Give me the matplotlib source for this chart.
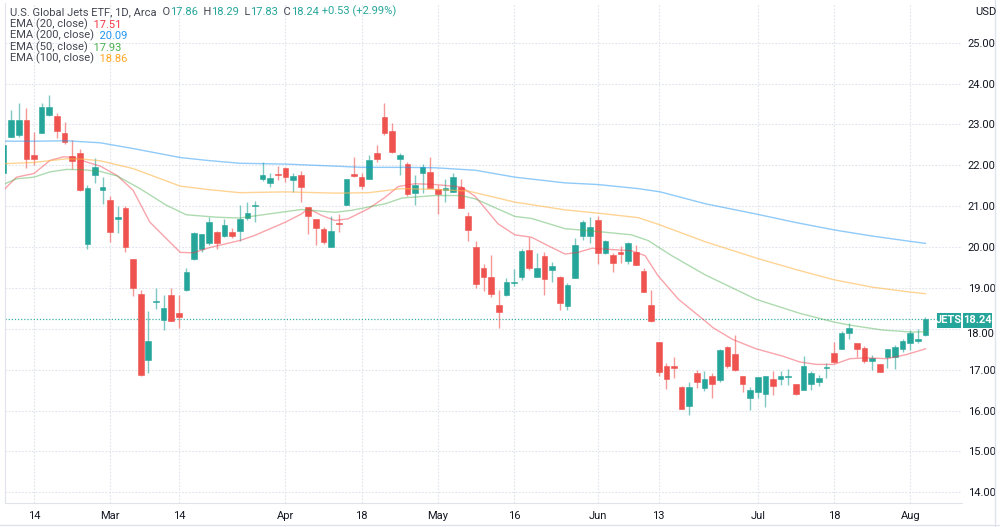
import matplotlib.pyplot as plt
from matplotlib.lines import Line2D
from matplotlib.patches import Rectangle
import numpy as np
import pandas as pd

plt.rcParams['font.family'] = ['Roboto', 'DejaVu Sans']

# trading days Feb 8 - Aug 3 2022 (US market holidays removed)
holidays = ['2022-02-21', '2022-04-15', '2022-05-30', '2022-06-20', '2022-07-04']
dates = pd.bdate_range('2022-02-08', '2022-08-03')
dates = dates[~dates.isin(pd.to_datetime(holidays))]

opens = [21.80, 22.70, 22.74, 23.11, 22.26, 22.78, 23.23, 23.20, 22.80, 22.22,
         22.31, 20.08, 21.77, 21.40, 21.16, 20.68, 20.96, 19.70, 18.84, 17.23,
         18.66, 18.22, 18.83, 18.38, 18.95, 19.72, 19.95, 20.10, 20.36, 20.28,
         20.38, 20.40, 20.72, 21.00, 21.67, 21.57, 21.79, 21.94, 21.65, 21.76,
         20.98, 20.69, 20.44, 19.99, 20.59, 21.04, 21.79, 21.71, 21.67, 22.29,
         23.17, 22.84, 22.15, 22.03, 21.32, 21.82, 21.84, 21.43, 21.39, 21.35,
         21.48, 20.75, 19.99, 19.50, 19.26, 18.59, 18.82, 19.11, 19.28, 19.93,
         19.27, 19.77, 19.44, 19.28, 18.56, 19.25, 20.26, 20.28, 20.65, 19.85,
         19.81, 19.89, 19.65, 19.87, 19.42, 18.59, 17.68, 17.09, 17.09, 16.57,
         16.12, 16.92, 16.55, 16.85, 16.76, 17.55, 17.39, 16.84, 16.31, 16.45,
         16.41, 16.78, 16.78, 16.82, 16.66, 16.50, 16.66, 16.69, 17.04, 17.41,
         17.51, 17.91, 17.66, 17.53, 17.22, 17.14, 17.30, 17.30, 17.51, 17.66,
         17.71, 17.86]
highs = [22.55, 23.35, 23.52, 23.41, 22.82, 23.52, 23.72, 23.27, 23.07, 22.62,
         22.39, 21.51, 22.19, 21.71, 21.26, 21.00, 21.00, 19.72, 18.95, 18.44,
         19.01, 18.82, 18.99, 18.82, 19.50, 20.38, 20.33, 20.73, 20.40, 20.69,
         20.46, 21.02, 21.10, 21.12, 22.07, 21.82, 21.98, 21.95, 21.82, 21.87,
         20.98, 20.69, 20.49, 20.75, 20.80, 21.66, 22.21, 21.81, 22.25, 22.49,
         23.52, 23.04, 22.29, 22.08, 21.76, 22.03, 22.21, 21.53, 21.66, 21.80,
         21.67, 20.85, 20.14, 19.58, 19.81, 18.95, 19.25, 19.46, 19.95, 20.24,
         19.85, 19.88, 19.64, 19.29, 19.13, 20.21, 20.67, 20.73, 20.75, 20.18,
         19.86, 20.02, 20.12, 20.06, 19.50, 18.96, 17.68, 17.16, 17.32, 16.61,
         16.70, 17.00, 16.97, 16.91, 17.50, 17.57, 17.86, 16.84, 16.58, 16.82,
         16.85, 16.96, 16.96, 17.02, 16.66, 17.34, 16.97, 16.88, 17.16, 17.67,
         17.95, 18.14, 17.66, 17.57, 17.37, 17.14, 17.51, 17.60, 17.76, 17.97,
         18.00, 18.29]
lows = [21.75, 22.70, 22.70, 21.94, 22.00, 22.78, 23.20, 22.67, 22.51, 21.92,
        21.38, 19.95, 21.57, 21.06, 20.13, 20.34, 19.89, 18.81, 16.84, 16.91,
        18.48, 17.97, 18.18, 18.02, 18.93, 19.69, 19.87, 20.04, 19.95, 20.24,
        20.21, 20.16, 20.67, 20.62, 21.62, 21.47, 21.65, 21.59, 21.35, 21.10,
        20.32, 20.04, 20.08, 19.99, 20.36, 21.04, 21.71, 21.41, 21.67, 22.07,
        22.74, 22.29, 21.76, 21.26, 21.04, 21.32, 21.45, 20.80, 21.10, 21.35,
        20.96, 20.15, 18.99, 18.93, 18.79, 18.03, 18.80, 19.06, 19.19, 19.43,
        19.27, 18.83, 19.15, 18.46, 18.47, 19.25, 20.18, 20.09, 19.59, 19.83,
        19.38, 19.60, 19.59, 19.57, 18.89, 18.17, 16.85, 16.52, 16.80, 16.03,
        15.89, 16.55, 16.47, 16.31, 16.69, 17.05, 16.97, 16.45, 16.02, 16.31,
        16.10, 16.39, 16.63, 16.63, 16.37, 16.50, 16.50, 16.61, 16.80, 17.17,
        17.50, 17.74, 17.30, 17.17, 16.99, 16.95, 17.03, 17.02, 17.44, 17.48,
        17.65, 17.83]
closes = [22.49, 23.11, 23.11, 22.16, 22.15, 23.42, 23.43, 22.84, 22.56, 22.11,
          21.40, 21.45, 21.95, 21.47, 20.38, 20.74, 20.01, 19.01, 16.88, 17.70,
          18.68, 18.52, 18.19, 18.28, 19.38, 20.35, 20.31, 20.61, 20.10, 20.54,
          20.26, 20.69, 20.84, 21.02, 21.77, 21.70, 21.76, 21.71, 21.73, 21.47,
          20.75, 20.46, 20.12, 20.39, 20.56, 21.66, 21.75, 21.49, 22.12, 22.16,
          22.80, 22.33, 22.25, 21.30, 21.53, 21.97, 21.45, 21.30, 21.45, 21.71,
          20.96, 20.42, 19.09, 19.27, 18.84, 18.41, 19.15, 19.15, 19.90, 19.50,
          19.50, 19.23, 19.54, 18.62, 19.07, 20.05, 20.61, 20.49, 19.85, 20.16,
          19.61, 19.83, 20.10, 19.57, 18.90, 18.19, 16.95, 16.78, 17.04, 16.05,
          16.58, 16.70, 16.78, 16.65, 17.48, 17.10, 17.00, 16.66, 16.50, 16.82,
          16.85, 16.59, 16.84, 16.84, 16.41, 17.08, 16.93, 16.80, 17.07, 17.20,
          17.91, 18.01, 17.50, 17.22, 17.29, 16.95, 17.50, 17.56, 17.70, 17.89,
          17.73, 18.24]

# EMA curves (position in trading days from Feb 14, value)
ema20_pos = [-3.8, -2.3, 0, 2.1, 3.9, 5.2, 6.9, 8.7, 10.9, 13, 15.2, 17.4, 19.2, 20.9,
             23.1, 27, 28.9, 33, 35.1, 36, 37.8, 39.5, 41.2, 43.9, 46.1, 47.8, 50,
             52.6, 56.1, 57.9, 60.9, 63.1, 65.3, 67.4, 69.7, 71.4, 73.2, 74.9, 78.4,
             80.2, 81.9, 84.6, 88.1, 89.1, 91.7, 94.8, 98.3, 100.5, 102.7, 105,
             107.1, 109.3, 111.9, 114.5, 117]
ema20_val = [21.43, 21.71, 21.80, 22.12, 22.21, 22.19, 22.08, 21.98, 21.75, 21.39,
             20.61, 20.20, 19.87, 19.86, 19.99, 20.16, 20.28, 20.61, 20.81, 20.94,
             20.77, 20.65, 20.69, 20.94, 21.22, 21.48, 21.55, 21.53, 21.47, 21.24,
             20.57, 20.30, 20.24, 20.04, 19.83, 19.87, 19.97, 19.95, 19.91, 19.79,
             19.30, 18.72, 18.19, 18.03, 17.74, 17.51, 17.33, 17.19, 17.13, 17.13,
             17.27, 17.29, 17.27, 17.37, 17.51]
ema50_pos = [-3.8, -2.3, 0, 2.1, 4.3, 6.5, 8.7, 10.9, 13.9, 17.4, 20, 24, 27, 30.8,
             35.1, 39.5, 41.7, 46.1, 48.3, 52.6, 56.1, 57.9, 63.1, 65.3, 69.7, 74,
             78.4, 80.6, 83.7, 88.1, 94.8, 100.5, 104.9, 107.1, 111.4, 115.3, 117]
ema50_val = [21.55, 21.67, 21.71, 21.84, 21.90, 21.89, 21.85, 21.74, 21.43, 21.02,
             20.79, 20.73, 20.71, 20.81, 20.92, 20.85, 20.90, 21.06, 21.20, 21.26,
             21.26, 21.18, 20.75, 20.70, 20.45, 20.38, 20.30, 20.16, 19.79, 19.32,
             18.72, 18.38, 18.17, 18.09, 17.97, 17.92, 17.93]
ema100_pos = [-3.8, 0, 4.3, 6.5, 8.7, 13, 19.2, 22.7, 27, 33, 39.5, 43.9, 48.3, 52.6,
              57, 63.1, 69.7, 74, 79.3, 82.2, 88.1, 95, 100, 105, 110, 115, 117]
ema100_val = [22.04, 22.07, 22.16, 22.15, 22.11, 21.92, 21.49, 21.41, 21.33, 21.35,
              21.32, 21.33, 21.43, 21.41, 21.37, 21.10, 20.91, 20.83, 20.72, 20.54,
              20.13, 19.72, 19.45, 19.20, 19.02, 18.90, 18.86]
ema200_pos = [-3.8, 0, 4.3, 8.7, 13, 19.2, 22.7, 27, 33, 39.5, 43, 48.3, 52.6, 57.9,
              63.1, 69.7, 74, 79.3, 82.2, 88.1, 95, 100, 105, 110, 115, 117]
ema200_val = [22.59, 22.59, 22.60, 22.55, 22.41, 22.19, 22.12, 22.05, 22.03, 21.98,
              21.95, 21.95, 21.94, 21.88, 21.71, 21.57, 21.53, 21.43, 21.35, 21.06,
              20.80, 20.60, 20.42, 20.27, 20.14, 20.09]

date_ticks = ['2022-02-14', '2022-03-01', '2022-03-14', '2022-04-01', '2022-04-18',
              '2022-05-02', '2022-05-16', '2022-06-01', '2022-06-13', '2022-07-01',
              '2022-07-18', '2022-08-01']
date_labels = ['14', 'Mar', '14', 'Apr', '18', 'May', '16', 'Jun', '13', 'Jul', '18', 'Aug']
price_ticks = list(range(14, 26))

UP, DOWN = '#26a69a', '#ef5350'
GRID = '#e0e3eb'
TXT = '#131722'
LBL = '#434651'

o = np.array(opens)
h = np.array(highs)
l = np.array(lows)
c = np.array(closes)
x = np.arange(len(dates)) - 4  # 0 = Feb 14
cols = np.where(c >= o, UP, DOWN)

fig = plt.figure(figsize=(10, 5.27), dpi=100)
ax = fig.add_axes([0.005, 1 - 503 / 527, 0.957, 500 / 527])

# grid
for p in price_ticks:
    ax.axhline(p, color=GRID, lw=0.8, ls=(0, (1.5, 1.5)), zorder=0)
tick_x = [x[dates.get_loc(pd.Timestamp(d))] for d in date_ticks]
for t in tick_x:
    ax.axvline(t, color=GRID, lw=0.8, ls=(0, (1.5, 1.5)), zorder=0)

# candles
ax.vlines(x, l, h, colors=cols, lw=1, alpha=0.6, zorder=2)
body = np.maximum(np.abs(c - o), 0.03)
ax.bar(x, body, bottom=np.minimum(o, c), width=0.74, color=cols,
       edgecolor=cols, linewidth=0.4, zorder=3)

# EMAs
ax.plot(ema20_pos, ema20_val, color='#f23645', alpha=0.45, lw=1, zorder=4)
ax.plot(ema200_pos, ema200_val, color='#2196f3', alpha=0.5, lw=1, zorder=4)
ax.plot(ema50_pos, ema50_val, color='#4caf50', alpha=0.45, lw=1, zorder=4)
ax.plot(ema100_pos, ema100_val, color='#ffb74d', alpha=0.6, lw=1, zorder=4)

# last price line
ax.axhline(closes[-1], color=UP, lw=0.9, ls=(0, (1, 1.5)), alpha=0.9, zorder=1)

ax.set_xlim(-3.81, 121.8)
ax.set_ylim(13.74, 25.97)
ax.yaxis.tick_right()
ax.set_yticks(price_ticks)
# 18.00 is pushed below the price tag, as on the original
ax.set_yticklabels([f'{p:.2f}' if p != 18 else '' for p in price_ticks])
ax.set_xticks(tick_x)
ax.set_xticklabels(date_labels)
ax.tick_params(axis='both', length=0, labelsize=8, labelcolor=TXT)
ax.tick_params(axis='y', pad=4)
ax.tick_params(axis='x', pad=6)
for s in ['top', 'right']:
    ax.spines[s].set_visible(False)
ax.spines['left'].set_color(GRID)
ax.spines['bottom'].set_color(GRID)
fig.text(0.966, 1 - 334 / 527, '18.00', color=TXT, fontsize=8, ha='left', va='center')

# price tags on the right
ytag = 1 - 320 / 527
for x0, x1, s in [(0.937, 0.961, 'JETS'), (0.963, 0.992, f'{closes[-1]:.2f}')]:
    fig.add_artist(Rectangle((x0, ytag - 7.5 / 527), x1 - x0, 15 / 527,
                             transform=fig.transFigure, fc=UP, ec='none', zorder=5))
    fig.text((x0 + x1) / 2, ytag, s, color='white', fontsize=8, fontweight='bold',
             ha='center', va='center', zorder=6)
fig.text(0.975, 1 - 12 / 527, 'USD', color=TXT, fontsize=8, ha='left', va='center')

# frame
fig.add_artist(Line2D([0.995, 0.995], [0, 1], color=GRID, lw=1))
fig.add_artist(Line2D([0, 1], [0.003, 0.003], color=GRID, lw=1))


def chain(prev, s, color):
    return ax.annotate(s, xy=(1, 0), xycoords=prev, va='bottom', ha='left',
                       color=color, fontsize=8)


# legend texts
t = fig.text(0.010, 1 - 12 / 527, 'U.S. Global Jets ETF, 1D, Arca', color=LBL,
             fontsize=8, va='center')
for lab, val in [('  O', opens[-1]), ('  H', highs[-1]), ('  L', lows[-1]), ('  C', closes[-1])]:
    t = chain(t, lab, LBL)
    t = chain(t, f'{val:.2f}', UP)
chain(t, ' +0.53 (+2.99%)', UP)

ema_rows = [('EMA (20, close)', ema20_val[-1], '#f23645'),
            ('EMA (200, close)', ema200_val[-1], '#2196f3'),
            ('EMA (50, close)', ema50_val[-1], '#4caf50'),
            ('EMA (100, close)', ema100_val[-1], '#ffa726')]
for k, (lab, val, col) in enumerate(ema_rows):
    t = fig.text(0.010, 1 - (24 + 11.5 * k) / 527, lab, color=LBL, fontsize=8, va='center')
    chain(t, f'  {val:.2f}', col)

fig.savefig('out.png', dpi=100, facecolor='white')
